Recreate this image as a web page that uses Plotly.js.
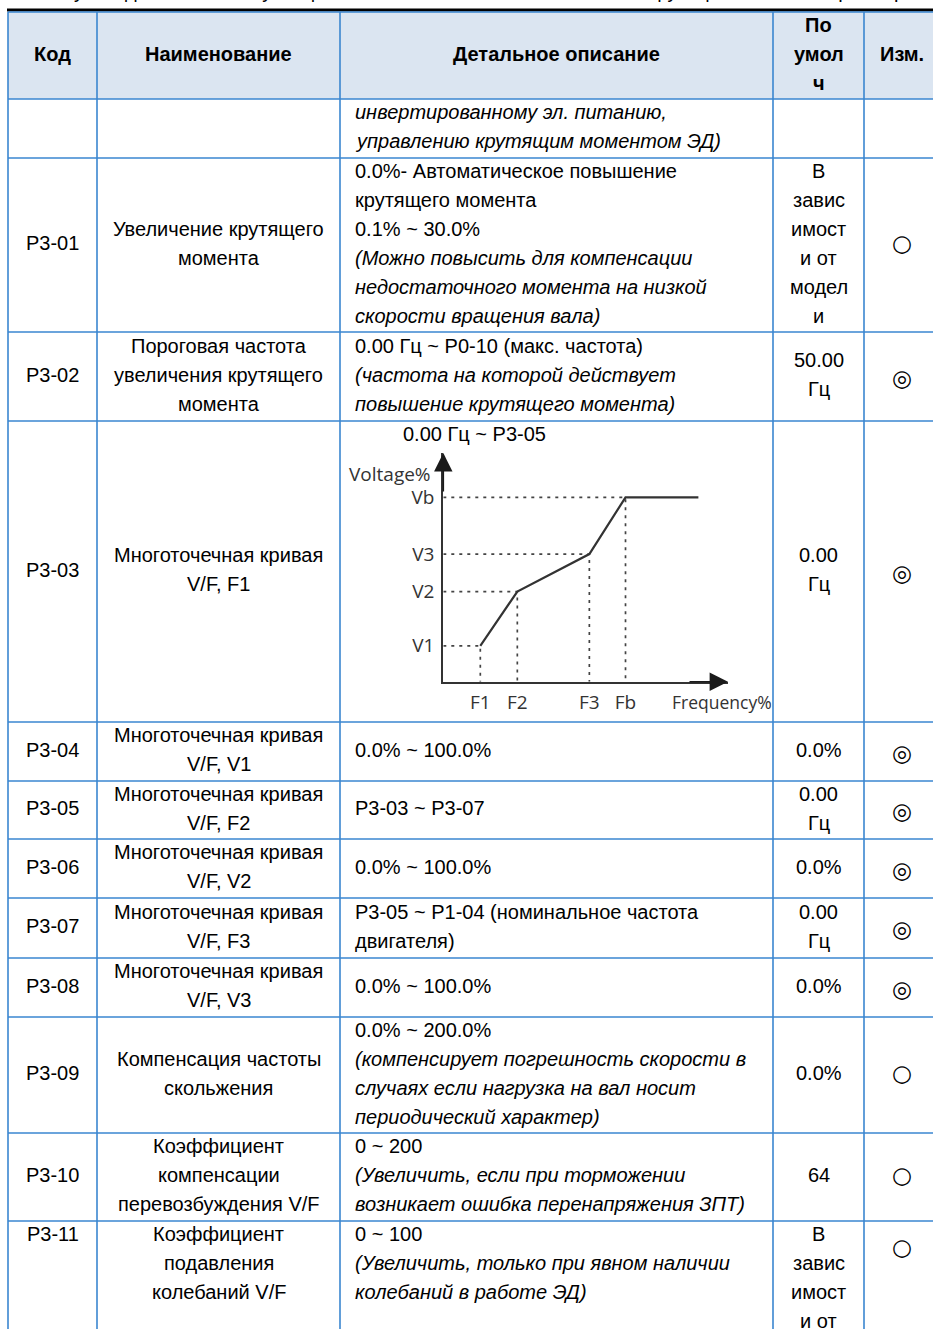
<!DOCTYPE html>
<html><head><meta charset="utf-8">
<script src="https://cdn.plot.ly/plotly-3.0.1.min.js"></script>
<style>html,body{margin:0;padding:0;background:#fff;}#chart{width:933px;height:1329px;}</style>
</head><body><div id="chart"></div>
<script>
// ================= DATA =================
const pageHeaderLeft = 'PD90 Руководство по эксплуатации';
const pageHeaderRight = '6. Список функциональных параметров';

const headers = [['Код'], ['Наименование'], ['Детальное описание'], ['По', 'умол', 'ч'], ['Изм.']];

const codes = ['', 'P3-01', 'P3-02', 'P3-03', 'P3-04', 'P3-05', 'P3-06', 'P3-07', 'P3-08', 'P3-09', 'P3-10', 'P3-11'];

const names = [
  [],
  ['Увеличение крутящего', 'момента'],
  ['Пороговая частота', 'увеличения крутящего', 'момента'],
  ['Многоточечная кривая', 'V/F, F1'],
  ['Многоточечная кривая', 'V/F, V1'],
  ['Многоточечная кривая', 'V/F, F2'],
  ['Многоточечная кривая', 'V/F, V2'],
  ['Многоточечная кривая', 'V/F, F3'],
  ['Многоточечная кривая', 'V/F, V3'],
  ['Компенсация частоты', 'скольжения'],
  ['Коэффициент', 'компенсации', 'перевозбуждения V/F'],
  ['Коэффициент', 'подавления', 'колебаний V/F']
];

const descriptions = [
  ['<i>инвертированному эл. питанию,</i>', '<i>управлению крутящим моментом ЭД)</i>'],
  ['0.0%- Автоматическое повышение', 'крутящего момента', '0.1% ~ 30.0%',
   '<i>(Можно повысить для компенсации</i>', '<i>недостаточного момента на низкой</i>', '<i>скорости вращения вала)</i>'],
  ['0.00 Гц ~ P0-10 (макс. частота)', '<i>(частота на которой действует</i>', '<i>повышение крутящего момента)</i>'],
  ['0.00 Гц ~ P3-05'],
  ['0.0% ~ 100.0%'],
  ['P3-03 ~ P3-07'],
  ['0.0% ~ 100.0%'],
  ['P3-05 ~ P1-04 (номинальное частота', 'двигателя)'],
  ['0.0% ~ 100.0%'],
  ['0.0% ~ 200.0%', '<i>(компенсирует погрешность скорости в</i>', '<i>случаях если нагрузка на вал носит</i>', '<i>периодический характер)</i>'],
  ['0 ~ 200', '<i>(Увеличить, если при торможении</i>', '<i>возникает ошибка перенапряжения ЗПТ)</i>'],
  ['0 ~ 100', '<i>(Увеличить, только при явном наличии</i>', '<i>колебаний в работе ЭД)</i>']
];

const defaults = [
  [],
  ['В', 'завис', 'имост', 'и от', 'модел', 'и'],
  ['50.00', 'Гц'],
  ['0.00', 'Гц'],
  ['0.0%'],
  ['0.00', 'Гц'],
  ['0.0%'],
  ['0.00', 'Гц'],
  ['0.0%'],
  ['0.0%'],
  ['64'],
  ['В', 'завис', 'имост', 'и от', 'модел', 'и']
];

const changeMarks = ['', '○', '◎', '◎', '◎', '◎', '◎', '◎', '◎', '○', '○', '○'];

// V/F multipoint curve (schematic, % of axis length)
const freqLabels = ['F1', 'F2', 'F3', 'Fb'];
const freqPoints = [13, 26, 51.3, 64];
const voltLabels = ['V1', 'V2', 'V3', 'Vb'];
const voltPoints = [15.7, 39.4, 55.8, 80.6];
const curveEndFreq = 89.6;

// ================= LAYOUT CONSTANTS =================
const W = 933, H = 1329;
const colEdges = [8, 97, 340, 773, 864, 939];
const rowEdges = [12, 99, 158, 332, 421, 722, 781, 839, 898, 958, 1017, 1133, 1221, 1420];
const LINE = 29, YOFF = -2;
const FONT = 'Liberation Sans, Arial, sans-serif';
const FS = 20;
const GRID = '#3a86d0';
const HEADER_BG = '#dbe5f1';
const descIndentRow = 3;   // P3-03: text line above the picture
const topAlignedRow = 11;  // P3-11: cut by the page end
const chartBox = {x0: 443.3, x1: 728, y0: 681.7, y1: 453};
const CH_FONT = 'Open Sans, sans-serif', CH_COLOR = '#333', CH_FS = 19;

// ================= BUILD =================
const shapes = [];
const annotations = [];

function lineYs(top, bottom, n, valign) {
  const first = valign === 'top' ? top + LINE / 2 : top + (bottom - top - n * LINE) / 2 + LINE / 2;
  const ys = [];
  for (let k = 0; k < n; k++) ys.push(first + k * LINE + YOFF);
  return ys;
}
function txt(x, y, text, opts) {
  annotations.push(Object.assign({
    xref: 'x', yref: 'y', x: x, y: y, text: text, showarrow: false,
    xanchor: 'center', yanchor: 'middle',
    font: {family: FONT, size: FS, color: '#000'}
  }, opts || {}));
}
const colCenter = i => (colEdges[i] + colEdges[i + 1]) / 2;

// header background
shapes.push({type: 'rect', xref: 'x', yref: 'y', x0: colEdges[0], x1: W + 10, y0: rowEdges[0], y1: rowEdges[1],
  fillcolor: HEADER_BG, line: {width: 0}, layer: 'below'});
// page header rule
shapes.push({type: 'line', xref: 'x', yref: 'y', x0: 7, x1: W + 5, y0: 10, y1: 10, line: {color: '#000', width: 3}});
// grid
colEdges.forEach(x => shapes.push({type: 'line', xref: 'x', yref: 'y', x0: x, x1: x, y0: rowEdges[0], y1: H + 10,
  line: {color: GRID, width: 1.6}}));
rowEdges.forEach(y => shapes.push({type: 'line', xref: 'x', yref: 'y', x0: colEdges[0], x1: W + 10, y0: y, y1: y,
  line: {color: GRID, width: 1.6}}));

// page header texts (cut by the top edge, as in the source page)
txt(3, 4, pageHeaderLeft, {xanchor: 'left', yanchor: 'bottom'});
txt(929, 4, pageHeaderRight, {xanchor: 'right', yanchor: 'bottom'});

// header row
headers.forEach((lines, c) => {
  const ys = lineYs(rowEdges[0], rowEdges[1], lines.length, 'middle');
  lines.forEach((t, k) => txt(colCenter(c), ys[k], '<b>' + t + '</b>'));
});

// body rows
codes.forEach((code, r) => {
  const top = rowEdges[r + 1], bottom = rowEdges[r + 2];
  const va = r === topAlignedRow ? 'top' : 'middle';
  if (code) txt(colCenter(0), lineYs(top, bottom, 1, va)[0], code);
  const ny = lineYs(top, bottom, names[r].length, va);
  names[r].forEach((t, k) => txt(colCenter(1), ny[k], t));
  const dva = (r === descIndentRow) ? 'top' : va;
  const dy = lineYs(top, bottom, descriptions[r].length, dva);
  const dx = r === descIndentRow ? 401 : colEdges[2] + 13;
  descriptions[r].forEach((t, k) => txt(dx, dy[k], t, {xanchor: 'left'}));
  const fy = lineYs(top, bottom, defaults[r].length, va);
  defaults[r].forEach((t, k) => txt(colCenter(3), fy[k], t));
  if (changeMarks[r]) {
    let sy = lineYs(top, bottom, 1, va)[0];
    if (r === topAlignedRow) sy += 13;
    if (changeMarks[r] === '◎') sy += 3;
    txt(colCenter(4), sy, changeMarks[r], {font: {family: 'DejaVu Sans', size: 23, color: '#000'}});
  }
});

// ---------- V/F chart ----------
const traces = [];
freqPoints.forEach((f, i) => {
  traces.push({type: 'scatter', mode: 'lines', xaxis: 'x2', yaxis: 'y2',
    x: [0, f, f], y: [voltPoints[i], voltPoints[i], 0],
    line: {color: '#444', width: 1.7, dash: '3px,5px'}, hoverinfo: 'skip', showlegend: false});
});
traces.push({type: 'scatter', mode: 'lines', xaxis: 'x2', yaxis: 'y2',
  x: freqPoints.concat([curveEndFreq]),
  y: voltPoints.concat([voltPoints[voltPoints.length - 1]]),
  line: {color: '#333', width: 2.2}, hoverinfo: 'skip', showlegend: false});

// axis arrowheads
annotations.push({xref: 'x2', yref: 'y2', x: 100, y: 0, ax: -40, ay: 0, text: '', showarrow: true,
  arrowhead: 2, arrowsize: 2.3, arrowwidth: 1.6, arrowcolor: '#1a1a1a'});
annotations.push({xref: 'x2', yref: 'y2', x: 0, y: 100, ax: 0, ay: 40, text: '', showarrow: true,
  arrowhead: 2, arrowsize: 2.3, arrowwidth: 1.6, arrowcolor: '#1a1a1a'});
// axis names
annotations.push({xref: 'x2', yref: 'y2', x: 0, y: 91, xanchor: 'right', yanchor: 'middle', xshift: -10,
  text: 'Voltage%', showarrow: false, font: {family: CH_FONT, size: CH_FS, color: CH_COLOR}});
annotations.push({xref: 'x2', yref: 'y2', x: 98, y: 0, xanchor: 'center', yanchor: 'middle', yshift: -20,
  text: 'Frequency%', showarrow: false, font: {family: CH_FONT, size: 17.5, color: CH_COLOR}});

const layout = {
  width: W, height: H, margin: {l: 0, r: 0, t: 0, b: 0},
  paper_bgcolor: '#fff', plot_bgcolor: 'rgba(0,0,0,0)', showlegend: false,
  xaxis: {range: [0, W], domain: [0, 1], visible: false, fixedrange: true},
  yaxis: {range: [H, 0], domain: [0, 1], visible: false, fixedrange: true},
  xaxis2: {domain: [chartBox.x0 / W, chartBox.x1 / W], range: [0, 100], anchor: 'y2',
    showline: true, linecolor: '#333', linewidth: 2, showgrid: false, zeroline: false,
    tickmode: 'array', tickvals: freqPoints, ticktext: freqLabels, ticks: '', ticklabelstandoff: 2,
    tickfont: {family: CH_FONT, size: CH_FS, color: CH_COLOR}, fixedrange: true},
  yaxis2: {domain: [(H - chartBox.y0) / H, (H - chartBox.y1) / H], range: [0, 100], anchor: 'x2',
    showline: true, linecolor: '#333', linewidth: 2, showgrid: false, zeroline: false,
    tickmode: 'array', tickvals: voltPoints, ticktext: voltLabels, ticks: '', ticklabelstandoff: 3,
    tickfont: {family: CH_FONT, size: CH_FS, color: CH_COLOR}, fixedrange: true},
  shapes: shapes, annotations: annotations
};

Plotly.newPlot('chart', traces, layout, {displayModeBar: false, staticPlot: true});
</script>
</body></html>
